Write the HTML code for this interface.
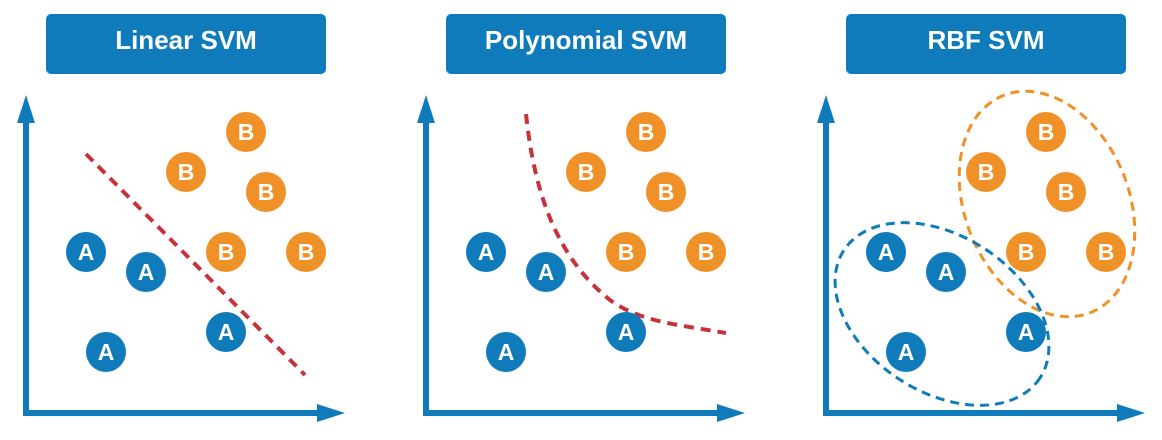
<!DOCTYPE html>
<html><head><meta charset="utf-8"><style>
html,body{margin:0;padding:0;background:#fff;}
svg{display:block;}
text{font-family:"Liberation Sans",sans-serif;font-weight:bold;fill:#fff;}
</style></head><body>
<svg width="1162" height="440" viewBox="0 0 1162 440" xmlns="http://www.w3.org/2000/svg">
<defs>
<g id="axes">
  <rect x="46" y="14" width="280" height="60" rx="5" fill="#0f7bbb"/>
  <line x1="26" y1="118" x2="26" y2="415" stroke="#0f7bbb" stroke-width="6"/>
  <polygon points="26,95 17,123 35,123" fill="#0f7bbb"/>
  <line x1="23" y1="413" x2="320" y2="413" stroke="#0f7bbb" stroke-width="6"/>
  <polygon points="345,413 317,404 317,422" fill="#0f7bbb"/>
</g>
<g id="pts">
  <g fill="#0f7bbb">
    <circle cx="86" cy="252" r="20"/><circle cx="146" cy="272" r="20"/>
    <circle cx="226" cy="332" r="20"/><circle cx="106" cy="352" r="20"/>
  </g>
  <g fill="#ef9127">
    <circle cx="246" cy="132" r="20"/><circle cx="186" cy="172" r="20"/>
    <circle cx="266" cy="192" r="20"/><circle cx="226" cy="252" r="20"/>
    <circle cx="306" cy="252" r="20"/>
  </g>
  <g font-size="23" text-anchor="middle">
    <text x="86" y="260">A</text><text x="146" y="280">A</text>
    <text x="226" y="340">A</text><text x="106" y="360">A</text>
    <text x="246" y="140">B</text><text x="186" y="180">B</text>
    <text x="266" y="200">B</text><text x="226" y="260">B</text>
    <text x="306" y="260">B</text>
  </g>
</g>
</defs>

<use href="#axes"/>
<line x1="86" y1="154" x2="305" y2="375" stroke="#c8323a" stroke-width="4" stroke-dasharray="10,7"/>
<use href="#pts"/>
<text x="186" y="49" font-size="26" text-anchor="middle">Linear SVM</text>

<g transform="translate(400,0)">
<use href="#axes"/>
<path d="M126,114 C135,200 160,260 210,300 C240,322 280,325 326,333" fill="none" stroke="#c8323a" stroke-width="4" stroke-dasharray="10,7"/>
<use href="#pts"/>
<text x="186" y="49" font-size="26" text-anchor="middle">Polynomial SVM</text>
</g>

<g transform="translate(800,0)">
<use href="#axes"/>
<ellipse cx="247" cy="204" rx="82" ry="117" transform="rotate(-22 247 204)" fill="none" stroke="#ef9127" stroke-width="3" stroke-dasharray="9,6"/>
<ellipse cx="142" cy="314" rx="117" ry="78" transform="rotate(33 142 314)" fill="none" stroke="#0f7bbb" stroke-width="3" stroke-dasharray="9,6"/>
<use href="#pts"/>
<text x="186" y="49" font-size="26" text-anchor="middle">RBF SVM</text>
</g>
</svg>
</body></html>
